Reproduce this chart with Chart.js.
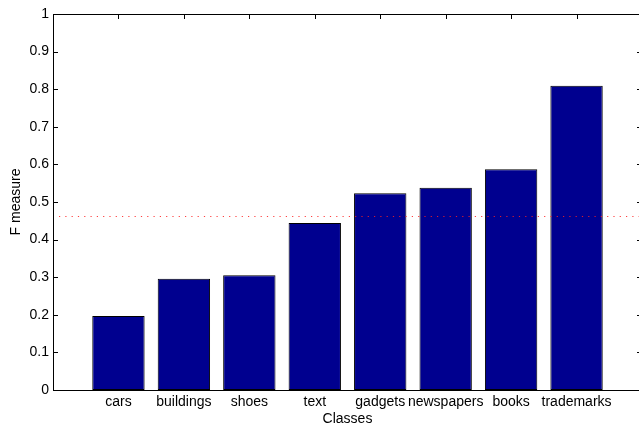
<!DOCTYPE html>
<html>
<head>
<meta charset="utf-8">
<script src="https://cdn.jsdelivr.net/npm/chart.js@4/dist/chart.umd.min.js"></script>
<style>
  html, body { margin: 0; padding: 0; overflow: hidden; background: #fff; }
  canvas { display: block; }
</style>
</head>
<body>
<canvas id="chart" width="646" height="428" style="width:646px;height:428px"></canvas>
<script>
// F measure per class
const classes = ['cars', 'buildings', 'shoes', 'text', 'gadgets', 'newspapers', 'books', 'trademarks'];
const fMeasure = [0.197, 0.296, 0.305, 0.444, 0.523, 0.538, 0.587, 0.809];
// average F measure over all classes (dotted reference line)
const meanF = 0.462;
const yTickLabels = ['0', '0.1', '0.2', '0.3', '0.4', '0.5', '0.6', '0.7', '0.8', '0.9', '1'];

// x runs from 0 to N+1 with the classes at 1..N, so add an empty slot at each end
const xLabels = [''].concat(classes, ['']);
const barValues = [null].concat(fMeasure, [null]);

Chart.defaults.font.family = "'Liberation Sans', Arial, Helvetica, sans-serif";
Chart.defaults.font.size = 14;
Chart.defaults.color = '#000';

// boxed axes with inward tick marks and the dotted mean line
const boxedAxes = {
  id: 'boxedAxes',
  beforeDatasetsDraw(chart) {
    const { ctx, chartArea: a, scales: { x, y } } = chart;
    ctx.save();
    ctx.strokeStyle = '#000';
    ctx.lineWidth = 1;
    ctx.beginPath();
    y.ticks.forEach(t => {
      const py = Math.round(y.getPixelForValue(t.value)) + 0.5;
      ctx.moveTo(a.left, py); ctx.lineTo(a.left + 5, py);
      ctx.moveTo(a.right, py); ctx.lineTo(a.right - 5, py);
    });
    classes.forEach((c, i) => {
      const px = Math.round(x.getPixelForValue(i + 1)) + 0.5;
      ctx.moveTo(px, a.bottom); ctx.lineTo(px, a.bottom - 5);
      ctx.moveTo(px, a.top); ctx.lineTo(px, a.top + 5);
    });
    ctx.stroke();
    ctx.restore();
  },
  afterDatasetsDraw(chart) {
    const { ctx, chartArea: a, scales: { y } } = chart;
    ctx.save();
    // mean line
    const my = Math.round(y.getPixelForValue(meanF)) + 0.5;
    ctx.strokeStyle = 'rgba(255, 30, 30, 0.85)';
    ctx.lineWidth = 1;
    ctx.setLineDash([1.2, 5.1]);
    ctx.lineDashOffset = -5;
    ctx.beginPath();
    ctx.moveTo(a.left + 1, my);
    ctx.lineTo(a.right, my);
    ctx.stroke();
    // frame
    ctx.setLineDash([]);
    ctx.strokeStyle = '#000';
    const l = Math.floor(a.left) + 0.5, t = Math.floor(a.top) + 0.5;
    const r = Math.floor(a.right) + 0.5, b = Math.floor(a.bottom) + 0.5;
    ctx.strokeRect(l, t, r - l, b - t);
    ctx.restore();
  }
};

new Chart(document.getElementById('chart'), {
  type: 'bar',
  data: {
    labels: xLabels,
    datasets: [{
      data: barValues,
      backgroundColor: '#00008f',
      borderColor: '#000',
      borderWidth: 1,
      borderSkipped: false,
      categoryPercentage: 0.8,
      barPercentage: 1.0
    }]
  },
  options: {
    responsive: false,
    animation: false,
    layout: { padding: { top: 14, left: 0, right: 4, bottom: 0 } },
    plugins: { legend: { display: false }, tooltip: { enabled: false } },
    scales: {
      x: {
        type: 'category',
        offset: false,
        grid: { display: false, drawTicks: false },
        border: { display: false },
        ticks: { autoSkip: false, maxRotation: 0, minRotation: 0, padding: 4 },
        title: { display: true, text: 'Classes', padding: { top: 0, bottom: 0 } },
        afterFit(scale) { scale.height = 38; }
      },
      y: {
        min: 0,
        max: 1,
        grid: { display: false, drawTicks: false },
        border: { display: false },
        ticks: {
          stepSize: 0.1,
          padding: 4,
          callback: (v, i) => yTickLabels[i]
        },
        title: { display: true, text: 'F measure', padding: { top: 8, bottom: 0 } },
        afterFit(scale) { scale.width = 53; }
      }
    }
  },
  plugins: [boxedAxes]
});
</script>
</body>
</html>
